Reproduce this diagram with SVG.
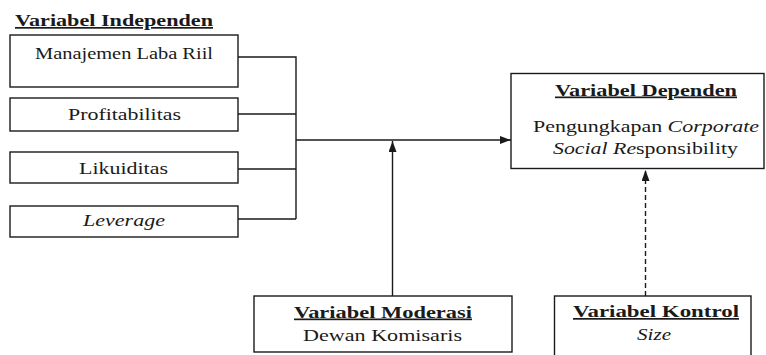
<svg xmlns="http://www.w3.org/2000/svg" width="766" height="355" viewBox="0 0 766 355">
  <defs>
    <marker id="arr" markerUnits="userSpaceOnUse" markerWidth="12" markerHeight="9" refX="11" refY="4" orient="auto">
      <path d="M0,0 L11,4 L0,8 z" fill="#1a1a1a"/>
    </marker>
  </defs>
  <style>
    .box { fill: #ffffff; stroke: #1a1a1a; stroke-width: 1.4; }
    .t { font-size: 17px; fill: #1a1a1a; }
    .b { font-weight: bold; text-decoration: underline; }
    .i { font-style: italic; }
    .ln { fill: none; stroke: #1a1a1a; stroke-width: 1.4; }
    .dash { stroke-dasharray: 5 3; }
  </style>
  <rect width="766" height="355" fill="#ffffff"/>

  <g font-family="Liberation Serif, DejaVu Serif, Times New Roman, serif">
  <g id="title-independen">
    <text class="t b" x="15" y="26" textLength="198" lengthAdjust="spacingAndGlyphs">Variabel Independen</text>
  </g>

  <g id="node-manajemen">
    <rect class="box" x="10" y="35" width="228" height="52"/>
    <text class="t" x="35" y="59" textLength="178" lengthAdjust="spacingAndGlyphs">Manajemen Laba Riil</text>
  </g>
  <g id="node-profitabilitas">
    <rect class="box" x="10" y="98" width="228" height="33"/>
    <text class="t" x="68" y="120" textLength="113" lengthAdjust="spacingAndGlyphs">Profitabilitas</text>
  </g>
  <g id="node-likuiditas">
    <rect class="box" x="10" y="152" width="228" height="31"/>
    <text class="t" x="79" y="174" textLength="89" lengthAdjust="spacingAndGlyphs">Likuiditas</text>
  </g>
  <g id="node-leverage">
    <rect class="box" x="10" y="206" width="228" height="31"/>
    <text class="t i" x="83" y="226" textLength="82" lengthAdjust="spacingAndGlyphs">Leverage</text>
  </g>

  <g id="node-dependen">
    <rect class="box" x="511" y="73.5" width="253" height="95"/>
    <text class="t b" x="555" y="95.5" textLength="182" lengthAdjust="spacingAndGlyphs">Variabel Dependen</text>
    <text class="t" x="533" y="132" textLength="226" lengthAdjust="spacingAndGlyphs">Pengungkapan <tspan class="i">Corporate</tspan></text>
    <text class="t" x="553" y="154" textLength="185" lengthAdjust="spacingAndGlyphs"><tspan class="i">Social Re</tspan>sponsibility</text>
  </g>

  <g id="node-moderasi">
    <rect class="box" x="254" y="296" width="258" height="56"/>
    <text class="t b" x="294" y="317.5" textLength="178" lengthAdjust="spacingAndGlyphs">Variabel Moderasi</text>
    <text class="t" x="303" y="340.5" textLength="159" lengthAdjust="spacingAndGlyphs">Dewan Komisaris</text>
  </g>

  <g id="node-kontrol">
    <rect class="box" x="554.5" y="296" width="196.5" height="70"/>
    <text class="t b" x="573" y="317" textLength="166" lengthAdjust="spacingAndGlyphs">Variabel Kontrol</text>
    <text class="t i" x="637" y="340" textLength="34" lengthAdjust="spacingAndGlyphs">Size</text>
  </g>
  </g>

  <g id="connectors">
    <path class="ln" d="M238,57 H296 V219 M238,114 H296 M238,169 H296 M238,219 H296"/>
    <path class="ln" d="M296,140 H511" marker-end="url(#arr)"/>
    <path class="ln" d="M392.5,296 V141" marker-end="url(#arr)"/>
    <path class="ln dash" d="M645.5,296 V170" marker-end="url(#arr)"/>
  </g>
</svg>
